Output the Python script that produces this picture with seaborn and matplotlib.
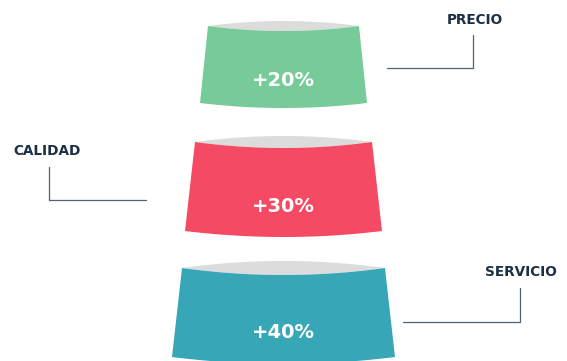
import numpy as np
import matplotlib
matplotlib.use("Agg")
import matplotlib.pyplot as plt
import seaborn as sns

categories = ["PRECIO", "CALIDAD", "SERVICIO"]
values = ["+20%", "+30%", "+40%"]
colors = ["#77CB99", "#F44A63", "#37A7B7"]

sns.set_theme(style="white")
plt.rcParams["font.family"] = ["DejaVu Sans"]

fig = plt.figure(figsize=(5.67, 3.61), dpi=100)
ax = fig.add_axes([0, 0, 1, 1])
ax.set_xlim(0, 567)
ax.set_ylim(361, 0)
ax.axis("off")

# layout per level: (top_y, top_half, bottom_y, bottom_half, curve, text_y)
levels = [
    (26, 75.5, 103, 83.5, 5, 80),
    (142, 88.5, 231, 98.5, 6, 207),
    (268, 101.5, 357, 111.5, 7, 332),
]
cx = 283.5
t = np.linspace(-1, 1, 80)

for (ty, th, by, bh, c, tyt), col, val in zip(levels, colors, values):
    top_upper = ty - c * (1 - t**2)
    top_lower = ty + c * (1 - t**2)
    bottom = by + c * (1 - t**2)
    xt = cx + th * t
    xb = cx + bh * t
    ax.fill(np.r_[xt, xt[::-1]], np.r_[top_upper, top_lower[::-1]],
            color="#DCDCDC", lw=0)
    ax.fill(np.r_[xt, xb[::-1]], np.r_[top_lower, bottom[::-1]],
            color=col, lw=0)
    ax.text(cx, tyt, val, ha="center", va="center",
            color="white", fontsize=14, fontweight="bold")

line_col = "#4D6374"
text_col = "#1B2F45"
ax.text(475, 20, categories[0], ha="center", va="center", color=text_col,
        fontsize=9.8, fontweight="bold")
ax.plot([473, 473, 387], [35, 68, 68], color=line_col, lw=0.9)
ax.text(47, 151, categories[1], ha="center", va="center", color=text_col,
        fontsize=9.8, fontweight="bold")
ax.plot([49, 49, 146], [167, 200, 200], color=line_col, lw=0.9)
ax.text(521, 272, categories[2], ha="center", va="center", color=text_col,
        fontsize=9.8, fontweight="bold")
ax.plot([520, 520, 403], [288, 322, 322], color=line_col, lw=0.9)

fig.savefig("out.png", dpi=100)
